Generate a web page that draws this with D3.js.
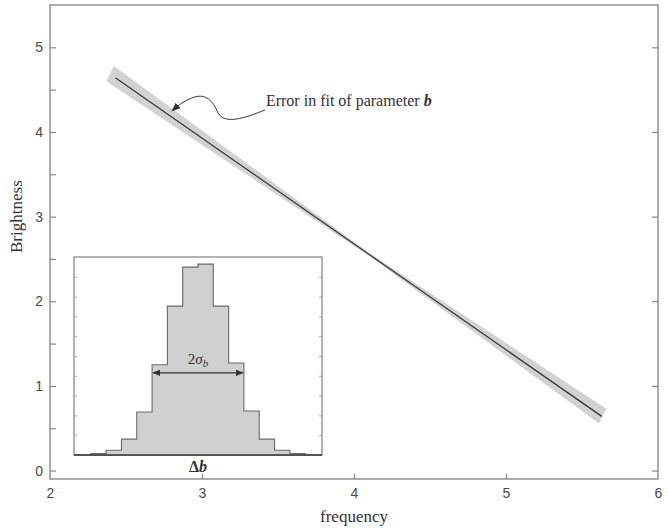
<!DOCTYPE html>
<html>
<head>
<meta charset="utf-8">
<script src="https://cdn.jsdelivr.net/npm/d3@7"></script>
<style>
  body { margin: 0; background: #fff; }
  svg { display: block; }
</style>
</head>
<body>
<svg id="chart"></svg>
<script>
// main axes
const xTicks = [2, 3, 4, 5, 6];
const yTicks = [0, 1, 2, 3, 4, 5];
const yMinorTicks = [0.5, 1.5, 2.5, 3.5, 4.5];

// fitted line and its error band
const fitX = [2.43, 5.63];
const fitY = [4.64, 0.64];
const bandUpperX = [2.42, 4.1, 5.66];
const bandUpperY = [4.78, 2.57, 0.73];
const bandLowerX = [2.37, 4.1, 5.61];
const bandLowerY = [4.60, 2.535, 0.56];

// annotation curve (data coords), text anchor first, arrow tip last
const noteCurve = [
    [3.414, 4.26], [3.283, 4.165], [3.151, 4.083], [3.105, 4.224],
    [3.072, 4.378], [3.020, 4.449], [2.954, 4.414],
    [2.888, 4.378], [2.842, 4.312], [2.803, 4.25]
];

// inset histogram of delta b
const binEdges = [-7, -6, -5, -4, -3, -2, -1, 0, 1, 2, 3, 4, 5, 6, 7];
const binCounts = [0.07, 0.24, 0.8, 2.17, 4.56, 7.52, 9.49, 9.64, 7.52, 4.65, 2.22, 0.8, 0.24, 0.07];
const insetTicks = [1, 2, 3, 4, 5, 6, 7, 8, 9];
const sigmaSpan = [-3, 3];
const sigmaLevel = 4.15;

const width = 668, height = 528;
const svg = d3.select("#chart").attr("width", width).attr("height", height);

const x = d3.scaleLinear().domain([2, 6]).range([50, 658]);
const y = d3.scaleLinear().domain([-0.1, 5.5]).range([479, 5]);

const frameColor = "#808080";
const labelFont = "'Liberation Sans', Arial, sans-serif";
const serif = "'Liberation Serif', 'Times New Roman', serif";

// error band
const bandPts = bandUpperX.map((v, i) => [x(v), y(bandUpperY[i])])
    .concat(bandLowerX.map((v, i) => [x(v), y(bandLowerY[i])]).reverse());
svg.append("path")
    .attr("d", d3.line()(bandPts) + "Z")
    .attr("fill", "#d2d2d2");

svg.append("line")
    .attr("x1", x(fitX[0])).attr("y1", y(fitY[0]))
    .attr("x2", x(fitX[1])).attr("y2", y(fitY[1]))
    .attr("stroke", "#3a3a3a").attr("stroke-width", 1.3);

// axes
const axL = svg.append("g").attr("transform", `translate(${x(2)},0)`)
    .call(d3.axisLeft(y).tickValues(yTicks).tickSize(-6).tickPadding(7).tickFormat(d3.format("d")));
const axLm = svg.append("g").attr("transform", `translate(${x(2)},0)`)
    .call(d3.axisLeft(y).tickValues(yMinorTicks).tickSize(-6).tickFormat(""));
const axR = svg.append("g").attr("transform", `translate(${x(6)},0)`)
    .call(d3.axisRight(y).tickValues(yTicks).tickSize(-6).tickFormat(""));
const axB = svg.append("g").attr("transform", `translate(0,${y(-0.1)})`)
    .call(d3.axisBottom(x).tickValues(xTicks).tickSize(-5).tickPadding(9).tickFormat(d3.format("d")));

[axL, axLm, axR, axB].forEach(g => {
    g.select(".domain").remove();
    g.selectAll(".tick line").attr("stroke", frameColor).attr("stroke-width", 1.1);
    g.selectAll(".tick text").attr("fill", "#4a4a4a")
        .style("font-family", labelFont).style("font-size", "14px");
});
axB.selectAll(".tick line").filter(d => d === 2 || d === 6).remove();

svg.append("rect")
    .attr("x", x(2)).attr("y", y(5.5))
    .attr("width", x(6) - x(2)).attr("height", y(-0.1) - y(5.5))
    .attr("fill", "none").attr("stroke", frameColor).attr("stroke-width", 1.3);

// axis titles
svg.append("text")
    .attr("transform", `translate(22,${y(3.0)}) rotate(-90)`)
    .attr("text-anchor", "middle")
    .style("font-family", serif).style("font-size", "17px").attr("fill", "#333")
    .text("Brightness");
svg.append("text")
    .attr("x", x(4)).attr("y", 522)
    .attr("text-anchor", "middle")
    .style("font-family", serif).style("font-size", "17px").attr("fill", "#333")
    .text("frequency");

// annotation
svg.append("defs").append("marker")
    .attr("id", "tip").attr("viewBox", "0 0 10 10")
    .attr("refX", 9).attr("refY", 5)
    .attr("markerWidth", 9).attr("markerHeight", 9)
    .attr("markerUnits", "userSpaceOnUse")
    .attr("orient", "auto")
    .append("path").attr("d", "M0,1L10,5L0,9Z").attr("fill", "#333");

const cp = noteCurve.map(p => [x(p[0]), y(p[1])]);
let d = `M${cp[0]}`;
for (let i = 1; i + 2 < cp.length; i += 3) d += `C${cp[i]} ${cp[i + 1]} ${cp[i + 2]}`;
svg.append("path").attr("d", d)
    .attr("fill", "none").attr("stroke", "#333").attr("stroke-width", 1)
    .attr("marker-end", "url(#tip)");

const note = svg.append("text")
    .attr("x", cp[0][0] + 1).attr("y", cp[0][1] - 4)
    .style("font-family", serif).style("font-size", "16px").attr("fill", "#333");
note.append("tspan").text("Error in fit of parameter ");
note.append("tspan").style("font-weight", "bold").style("font-style", "italic").text("b");

// inset
const ix = d3.scaleLinear().domain([-8.1, 8.1]).range([74, 322]);
const iy = d3.scaleLinear().domain([0, 10]).range([455, 257]);

const inset = svg.append("g");
inset.append("rect")
    .attr("x", ix(-8.1)).attr("y", iy(10))
    .attr("width", ix(8.1) - ix(-8.1)).attr("height", iy(0) - iy(10))
    .attr("fill", "#fff").attr("stroke", frameColor).attr("stroke-width", 1.2);

const steps = binCounts.map((c, i) => ({ e: binEdges[i], c }));
steps.push({ e: binEdges[binEdges.length - 1], c: binCounts[binCounts.length - 1] });

inset.append("path")
    .datum(steps)
    .attr("d", d3.area().curve(d3.curveStepAfter).x(s => ix(s.e)).y0(iy(0)).y1(s => iy(s.c)))
    .attr("fill", "#d0d0d0");

const outline = [{ e: binEdges[0], c: 0 }].concat(steps, [{ e: binEdges[binEdges.length - 1], c: 0 }]);
inset.append("path")
    .datum(outline)
    .attr("d", d3.line().curve(d3.curveStepAfter).x(s => ix(s.e)).y(s => iy(s.c)))
    .attr("fill", "none").attr("stroke", "#6a6a6a").attr("stroke-width", 1.1);

inset.append("line")
    .attr("x1", ix(-8.1)).attr("x2", ix(8.1))
    .attr("y1", iy(0)).attr("y2", iy(0))
    .attr("stroke", "#333").attr("stroke-width", 1.3);

const iL = inset.append("g").attr("transform", `translate(${ix(-8.1)},0)`)
    .call(d3.axisLeft(iy).tickValues(insetTicks).tickSize(-3).tickFormat(""));
const iR = inset.append("g").attr("transform", `translate(${ix(8.1)},0)`)
    .call(d3.axisRight(iy).tickValues(insetTicks).tickSize(-3).tickFormat(""));
[iL, iR].forEach(g => {
    g.select(".domain").remove();
    g.selectAll(".tick line").attr("stroke", "#999").attr("stroke-width", 0.8);
});

// 2 sigma_b arrow
inset.append("defs").append("marker")
    .attr("id", "head").attr("viewBox", "0 0 10 10")
    .attr("refX", 9).attr("refY", 5)
    .attr("markerWidth", 8).attr("markerHeight", 8)
    .attr("markerUnits", "userSpaceOnUse")
    .attr("orient", "auto-start-reverse")
    .append("path").attr("d", "M0,1L10,5L0,9Z").attr("fill", "#333");

inset.append("line")
    .attr("x1", ix(sigmaSpan[0]) + 1).attr("x2", ix(sigmaSpan[1]) - 1)
    .attr("y1", iy(sigmaLevel)).attr("y2", iy(sigmaLevel))
    .attr("stroke", "#333").attr("stroke-width", 1.3)
    .attr("marker-start", "url(#head)").attr("marker-end", "url(#head)");

const sig = inset.append("text")
    .attr("x", ix(0)).attr("y", iy(sigmaLevel) - 9)
    .attr("text-anchor", "middle")
    .style("font-family", serif).style("font-size", "15px").attr("fill", "#333");
sig.append("tspan").text("2");
sig.append("tspan").style("font-style", "italic").text("σ");
sig.append("tspan").style("font-style", "italic").style("font-size", "11px").attr("dy", 3).text("b");

const db = svg.append("text")
    .attr("x", ix(0)).attr("y", 472)
    .attr("text-anchor", "middle")
    .style("font-family", serif).style("font-size", "16px").style("font-weight", "bold").attr("fill", "#333");
db.append("tspan").text("Δ");
db.append("tspan").style("font-style", "italic").text("b");
</script>
</body>
</html>
